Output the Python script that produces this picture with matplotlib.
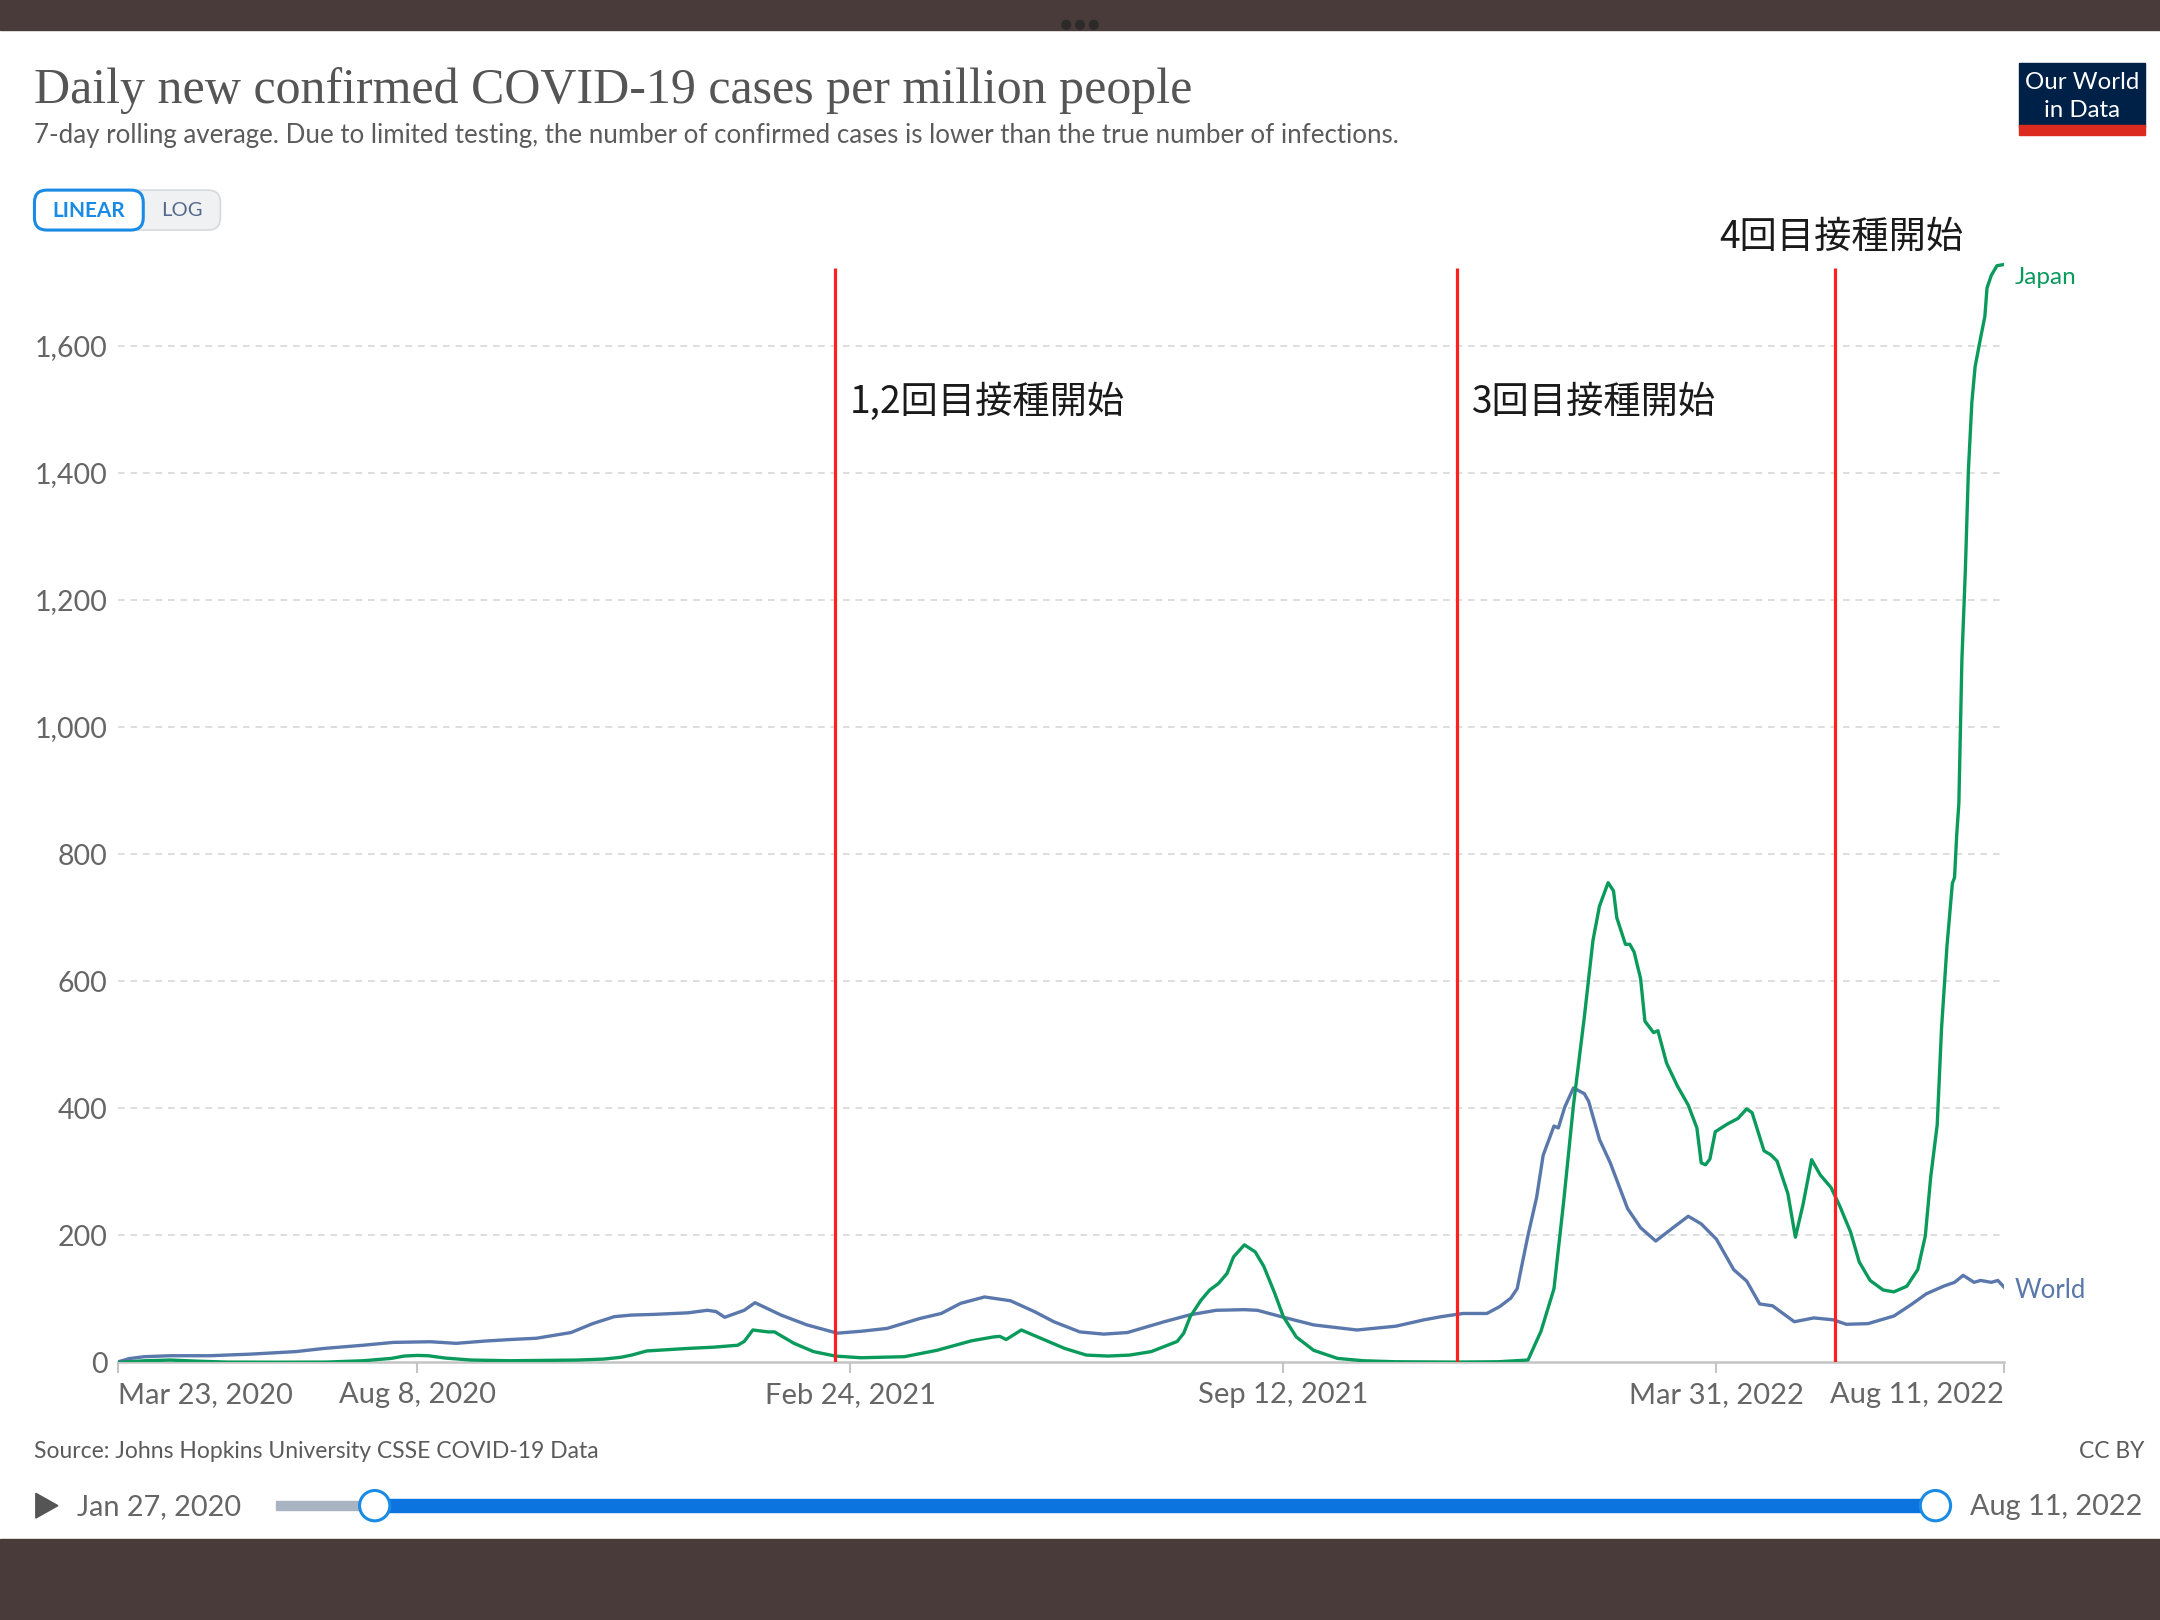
import matplotlib
matplotlib.use("Agg")
import matplotlib.pyplot as plt
import numpy as np
import pandas as pd
from matplotlib.patches import Rectangle, FancyBboxPatch, Circle, Polygon

# ---------------- data ----------------
START = "2020-03-23"   # day 0 of the day offsets below
END = "2022-08-11"

world_day = [0, 5, 12, 24, 42, 61, 82, 95, 113, 127, 144, 156, 169, 181, 193, 209, 219, 229, 237,
             247, 263, 272, 276, 280, 289, 294, 306, 318, 332, 343, 355, 370, 380, 389, 400, 412,
             423, 432, 444, 455, 466, 483, 495, 507, 520, 526, 537, 552, 572, 590, 603, 611, 621,
             632, 638, 643, 646, 648, 651, 655, 658, 663, 665, 668, 672, 677, 679, 684, 689, 697,
             703, 710, 718, 725, 731, 738, 746, 752, 758, 764, 774, 783, 792, 798, 808, 814, 820,
             828, 835, 843, 848, 852, 857, 860, 865, 868, 871]
world_val = [1, 6, 9, 10.5, 10.5, 13, 17, 22, 27, 31.5, 32.5, 30, 33.5, 36, 38, 47, 61, 72, 74.5,
             75.5, 78, 82, 80, 71, 82, 94, 74.5, 59, 46, 49, 53.5, 69, 77, 93, 103, 97,
             80, 64, 48, 44.5, 47, 64, 75, 82, 83, 82, 72, 59, 51, 57, 67, 72, 77,
             77, 88, 101, 116, 150, 200, 260, 326, 372, 369, 402, 432, 423, 411, 351, 314, 242,
             212, 191, 212, 230, 218, 194, 146, 128, 92, 89, 64, 70, 67, 60, 61, 67, 73,
             91, 108, 120, 126, 137, 126, 129, 126, 129, 118]

japan_day = [0, 12, 24, 36, 50, 73, 96, 113, 126, 132, 138, 143, 151, 163, 181, 197, 212, 224, 232,
             237, 244, 263, 275, 286, 289, 293, 300, 303, 312, 321, 331, 343, 363, 378, 394, 404,
             407, 410, 417, 426, 437, 447, 457, 467, 477, 483, 489, 492, 495, 500, 504, 508, 512,
             515, 520, 525, 529, 534, 538, 544, 552, 563, 575, 590, 617, 637, 651, 657, 663, 667.5,
             672, 677, 681, 684, 688, 690.5, 692, 696, 698, 700, 703, 705, 709, 711, 715, 720, 725,
             729, 731, 733, 735, 737.5, 743, 748, 752, 754.5, 760, 763, 766, 771, 774.5, 778, 782,
             786, 791, 795, 800, 804, 809, 815, 820, 826, 831, 834.5, 837, 840, 842, 844.5, 847,
             848, 849, 850, 851.4, 853, 854.4, 856, 857.5, 860, 862, 863, 865, 867.6, 871]
japan_val = [0, 2.6, 3.7, 2, 0.5, 0.3, 0.5, 2.6, 6.3, 10, 11, 10.5, 6.8, 3.7, 2.6, 3.1, 3.7, 5.2, 8,
             11.5, 18, 22, 24, 27, 33, 51, 48, 48, 30, 17, 10, 7.3, 9, 19, 34, 40,
             41, 36, 51, 38, 22, 11.5, 10, 11.5, 17, 25, 33, 46, 72, 98, 114, 124, 140,
             166, 185, 174, 151, 109, 72, 40, 19, 6.3, 2.6, 1, 0.5, 1, 3.7, 49, 116, 254,
             405, 543, 664, 718, 755, 742, 700, 658, 658, 646, 604, 537, 519, 522, 471, 435, 405,
             369, 314, 311, 320, 363, 375, 384, 399, 393, 333, 327, 317, 266, 197, 248, 319,
             295, 275, 246, 205, 158, 129, 114, 111, 120, 146, 199, 292, 374, 526, 655, 754,
             763, 830, 880, 1106, 1247, 1404, 1511, 1567, 1612, 1646, 1691, 1711, 1726, 1728]

vacc_dates = ["2021-02-17", "2021-12-01", "2022-05-25"]
vacc_labels = ["1,2回目接種開始", "3回目接種開始", "4回目接種開始"]

y_ticks = [0, 200, 400, 600, 800, 1000, 1200, 1400, 1600]
x_tick_dates = ["2020-03-23", "2020-08-08", "2021-02-24", "2021-09-12", "2022-03-31", "2022-08-11"]
x_tick_labels = ["Mar 23, 2020", "Aug 8, 2020", "Feb 24, 2021", "Sep 12, 2021", "Mar 31, 2022", "Aug 11, 2022"]

series_names = ["Japan", "World"]

title = "Daily new confirmed COVID-19 cases per million people"
subtitle = ("7-day rolling average. Due to limited testing, the number of confirmed cases "
            "is lower than the true number of infections.")
source = "Source: Johns Hopkins University CSSE COVID-19 Data"

# ---------------- styles ----------------
JAPAN_C = "#0a9a5c"
WORLD_C = "#5a78ab"
GREY_TXT = "#666666"
BAND = "#4a3b3b"
BLUE_UI = "#1a8be5"

plt.rcParams["font.family"] = ["Lato", "DejaVu Sans"]

W, H = 2160, 1620
SW, SH = 1568, 1176        # layout coordinates (reference as displayed)
K = W / SW

fig = plt.figure(figsize=(W / 100, H / 100), dpi=100)
fig.patch.set_facecolor("white")
renderer = fig.canvas.get_renderer()

# overlay axes in layout coordinates
ov = fig.add_axes([0, 0, 1, 1])
ov.set_xlim(0, SW)
ov.set_ylim(SH, 0)
ov.axis("off")


def fit(t, target_w):
    w = t.get_window_extent(renderer=renderer).width / K
    t.set_fontsize(t.get_fontsize() * target_w / w)
    return t


# dark bands of the screenshot
ov.add_patch(Rectangle((0, 0), SW, 22, color=BAND, zorder=1))
ov.add_patch(Rectangle((0, 1117), SW, SH - 1117, color=BAND, zorder=1))
for dx in (-10, 0, 10):
    ov.add_patch(Circle((784 + dx, 18), 3.2, color="#2e2a2a", zorder=2))

# title & subtitle
t = ov.text(25, 66, title, fontsize=30, family=["Liberation Serif"], color="#555555",
            ha="left", va="center")
fit(t, 842)
t = ov.text(25, 98.5, subtitle, fontsize=14, color="#5b5b5b", ha="left", va="center")
fit(t, 990)

# LINEAR / LOG buttons
ov.add_patch(FancyBboxPatch((25, 138), 135, 29, boxstyle="round,pad=0,rounding_size=9",
                            fc="#f0f1f3", ec="#d6d9de", lw=1.2, zorder=2))
ov.add_patch(FancyBboxPatch((25, 138), 79, 29, boxstyle="round,pad=0,rounding_size=9",
                            fc="white", ec=BLUE_UI, lw=2.2, zorder=3))
t = ov.text(64.5, 153, "LINEAR", fontsize=12, fontweight="bold", color=BLUE_UI,
            ha="center", va="center", zorder=4)
fit(t, 53)
t = ov.text(132, 153, "LOG", fontsize=12, color="#55698a", ha="center", va="center", zorder=4)
fit(t, 30)

# OWID logo
ov.add_patch(Rectangle((1466, 46), 91, 46, color="#002147", zorder=2))
ov.add_patch(Rectangle((1466, 91), 91, 7, color="#dc2a1e", zorder=2))
t = ov.text(1511.5, 60, "Our World", fontsize=14, color="white", ha="center", va="center", zorder=3)
fit(t, 83)
t2 = ov.text(1511.5, 80, "in Data", fontsize=t.get_fontsize(), color="white",
             ha="center", va="center", zorder=3)

# source / licence
t = ov.text(25, 1054, source, fontsize=12, color="#5b5b5b", ha="left", va="center")
fit(t, 408)
ov.text(1557, 1054, "CC BY", fontsize=t.get_fontsize(), color="#5b5b5b", ha="right", va="center")

# time slider
ov.add_patch(Polygon([(26, 1084), (26, 1102), (42, 1093)], closed=True, color="#555555", zorder=2))
t = ov.text(56, 1094, "Jan 27, 2020", fontsize=16, color=GREY_TXT, ha="left", va="center")
fit(t, 120)
ov.text(1555, 1094, "Aug 11, 2022", fontsize=t.get_fontsize(), color=GREY_TXT, ha="right", va="center")
ov.add_patch(Rectangle((200, 1089.5), 72, 7, color="#a9b4c2", zorder=2))
ov.add_patch(Rectangle((272, 1088.5), 1133, 9, color="#0b74de", zorder=2))
for cx in (272, 1405):
    ov.add_patch(Circle((cx, 1093), 11, fc="white", ec=BLUE_UI, lw=2.2, zorder=3))

# ---------------- main chart ----------------
Y_TOP = 1750
x0, x1, ybase, ytop = 86, 1455, 989, 989 - Y_TOP * 0.46125
ax = fig.add_axes([x0 / SW, 1 - ybase / SH, (x1 - x0) / SW, (ybase - ytop) / SH])
ax.set_facecolor("none")

start = pd.Timestamp(START)
world_x = start + pd.to_timedelta(np.array(world_day, dtype=float), unit="D")
japan_x = start + pd.to_timedelta(np.array(japan_day, dtype=float), unit="D")

ax.plot(world_x, world_val, color=WORLD_C, lw=2.4, zorder=3, solid_joinstyle="round")
ax.plot(japan_x, japan_val, color=JAPAN_C, lw=2.4, zorder=4, solid_joinstyle="round")

vx = pd.to_datetime(vacc_dates)
ax.vlines(vx, 0, 1722, color="#ff1f1f", lw=2.3, zorder=5)

ax.set_xlim(pd.Timestamp(START), pd.Timestamp(END))
ax.set_ylim(0, Y_TOP)

for sp in ("top", "right", "left"):
    ax.spines[sp].set_visible(False)
ax.spines["bottom"].set_color("#c4c4c4")
ax.spines["bottom"].set_linewidth(1.8)
ax.spines["bottom"].set_zorder(2)

ax.set_yticks(y_ticks)
ax.set_yticklabels([f"{v:,}" for v in y_ticks])
ax.tick_params(axis="y", length=0, pad=8, labelsize=20.5, labelcolor=GREY_TXT)
for v in y_ticks[1:]:
    ax.axhline(v, color="#d8d8d8", lw=1.2, ls=(0, (4, 3.5)), zorder=1)

ax.set_xticks(pd.to_datetime(x_tick_dates))
ax.set_xticklabels(x_tick_labels)
ax.tick_params(axis="x", length=8, width=1.5, color="#c4c4c4", pad=6,
               labelsize=21, labelcolor=GREY_TXT)
xl = ax.get_xticklabels()
xl[0].set_ha("left")
xl[-1].set_ha("right")

# series labels
ax.annotate(series_names[0], xy=(japan_x[-1], japan_val[-1]), xytext=(10, -13),
            textcoords="offset pixels", color=JAPAN_C, fontsize=17.5, ha="left", va="center",
            annotation_clip=False)
ax.annotate(series_names[1], xy=(world_x[-1], world_val[-1]), xytext=(10, -3),
            textcoords="offset pixels", color=WORLD_C, fontsize=18.5, ha="left", va="center",
            annotation_clip=False)

# vaccination annotations
cjk = ["Noto Sans CJK JP", "DejaVu Sans"]
label_pos = [(15, 1511), (15, 1511), (-116, 1771)]
for d, lab, (dxp, yv) in zip(vx, vacc_labels, label_pos):
    ax.annotate(lab, xy=(d, yv), xytext=(dxp, 0), textcoords="offset pixels",
                fontsize=26.8, family=cjk, color="#1a1a1a", ha="left", va="center",
                annotation_clip=False)

fig.savefig("out.png", dpi=100, facecolor="white")
